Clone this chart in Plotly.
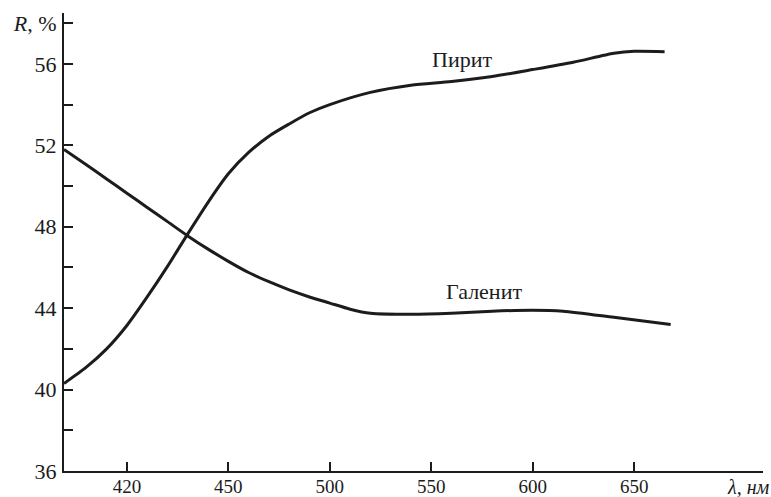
import plotly.graph_objects as go

# Data (x in nm on the drawn linear scale, R in %)
pyrite_x = [369, 380, 390, 400, 410, 420, 430, 440, 450, 460, 470, 480, 490, 500, 520, 540, 560, 580, 600, 620, 640, 650, 665]
pyrite_r = [40.3, 41.1, 42.0, 43.15, 44.55, 46.05, 47.65, 49.2, 50.6, 51.65, 52.45, 53.05, 53.6, 54.0, 54.6, 54.95, 55.13, 55.38, 55.72, 56.08, 56.52, 56.62, 56.6]
galena_x = [369, 380, 390, 400, 410, 420, 430, 440, 450, 460, 470, 480, 490, 500, 510, 520, 540, 560, 580, 600, 615, 640, 668]
galena_r = [51.8, 51.05, 50.35, 49.65, 48.95, 48.25, 47.55, 46.9, 46.3, 45.75, 45.3, 44.9, 44.55, 44.25, 43.95, 43.75, 43.7, 43.75, 43.85, 43.9, 43.85, 43.55, 43.2]

x_tickvals = [400, 450, 500, 550, 600, 650]
x_ticktext = ["420", "450", "500", "550", "600", "650"]
y_tickvals = [36, 40, 44, 48, 52, 56, 58]
y_ticktext = ["36", "40", "44", "48", "52", "56", "<i>R</i>, %"]

FONT = "Liberation Serif"
INK = "#1c1c1c"

fig = go.Figure()
for xs, ys in ((pyrite_x, pyrite_r), (galena_x, galena_r)):
    fig.add_trace(go.Scatter(x=xs, y=ys, mode="lines",
                             line=dict(color=INK, width=3, shape="spline", smoothing=0.7),
                             showlegend=False, hoverinfo="skip"))

fig.add_annotation(x=565, y=56.2, text="Пирит", showarrow=False,
                   font=dict(family=FONT, size=22, color=INK))
fig.add_annotation(x=576, y=44.8, text="Галенит", showarrow=False,
                   font=dict(family=FONT, size=22, color=INK))
fig.add_annotation(xref="paper", yref="paper", x=1.013, y=-0.035, xanchor="right", yanchor="middle",
                   text="<i>λ, нм</i>", showarrow=False,
                   font=dict(family=FONT, size=20, color=INK))

fig.update_layout(
    width=771, height=497,
    margin=dict(l=64, r=8, t=13, b=26, autoexpand=False),
    paper_bgcolor="white", plot_bgcolor="white",
    font=dict(family=FONT, size=22, color=INK),
)
fig.update_xaxes(range=[369, 713.5], tickvals=x_tickvals, ticktext=x_ticktext,
                 tickfont=dict(family=FONT, size=19, color=INK),
                 ticks="inside", ticklen=9, tickwidth=1.5, tickcolor=INK,
                 showline=True, linecolor=INK, linewidth=2, showgrid=False, zeroline=False,
                 ticklabelstandoff=-3, automargin=False)
fig.update_yaxes(range=[36, 58.5], tickvals=y_tickvals, ticktext=y_ticktext,
                 ticks="inside", ticklen=9, tickwidth=1.5, tickcolor=INK,
                 minor=dict(tickvals=[38, 42, 46, 50, 54], ticks="inside", ticklen=9, tickwidth=1.5, tickcolor=INK),
                 showline=True, linecolor=INK, linewidth=2, showgrid=False, zeroline=False,
                 ticklabelstandoff=1, automargin=False)

fig.write_html("out.html")
